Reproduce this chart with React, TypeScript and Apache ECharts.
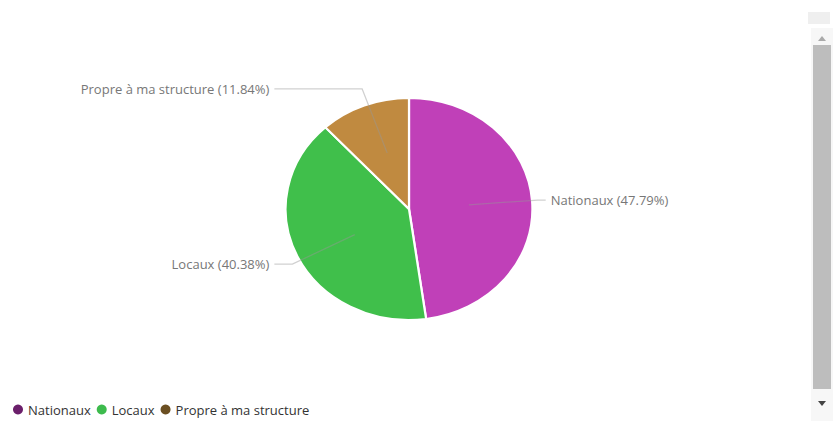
import React, { useEffect, useRef } from "react";
import * as echarts from "echarts";

const categories = ["Nationaux", "Locaux", "Propre à ma structure"];
const percents = [47.79, 40.38, 11.84];
const sliceColors = ["#c040b8", "#40bf4b", "#c08a40"];
const legendColors = ["#6b1f6b", "#3dbb4d", "#6b4f22"];
const labelLineLen2 = [8, 18, 18];

const CX = 409;
const CY = 209;
const R = 111;
const STRETCH_X = 1.112;

export default function App() {
  const pieRef = useRef<HTMLDivElement>(null);
  const labelRef = useRef<HTMLDivElement>(null);
  useEffect(() => {
    if (!pieRef.current || !labelRef.current) return;
    const font = "'Open Sans', 'Noto Sans', sans-serif";
    const pie = echarts.init(pieRef.current, undefined, { renderer: "svg" });
    pie.setOption({
      animation: false,
      series: [
        {
          type: "pie",
          center: [CX, CY],
          radius: R,
          startAngle: 90,
          clockwise: true,
          itemStyle: { borderColor: "#ffffff", borderWidth: 2 },
          label: { show: false },
          labelLine: { show: false },
          data: categories.map((name, i) => ({
            name,
            value: percents[i],
            itemStyle: { color: sliceColors[i] },
          })),
        },
      ],
    });

    const chart = echarts.init(labelRef.current, undefined, { renderer: "svg" });
    chart.setOption({
      animation: false,
      legend: {
        left: 8,
        bottom: 0,
        icon: "circle",
        itemWidth: 10,
        itemHeight: 10,
        itemGap: 6,
        textStyle: { color: "#333", fontSize: 13, fontFamily: font },
        data: categories.map((name, i) => ({ name, itemStyle: { color: legendColors[i] } })),
      },
      graphic: [
        { type: "rect", shape: { x: 808, y: 12, width: 22, height: 12 }, style: { fill: "#efefef" }, silent: true },
        { type: "rect", shape: { x: 811, y: 28, width: 22, height: 393 }, style: { fill: "#f7f7f7" }, silent: true },
        { type: "rect", shape: { x: 813, y: 45, width: 18, height: 344 }, style: { fill: "#bdbdbd" }, silent: true },
        { type: "polygon", shape: { points: [[818, 41], [826, 41], [822, 36]] }, style: { fill: "#aaaaaa" }, silent: true },
        { type: "polygon", shape: { points: [[818, 401], [826, 401], [822, 406]] }, style: { fill: "#444444" }, silent: true },
      ],
      series: [
        {
          type: "pie",
          name: "labels",
          center: [CX, CY],
          radius: 60,
          startAngle: 90,
          clockwise: true,
          silent: true,
          itemStyle: { color: "rgba(0,0,0,0)", borderWidth: 0 },
          emphasis: { disabled: true },
          label: {
            show: true,
            formatter: (p: any) => `${p.name} (${p.value.toFixed(2)}%)`,
            color: "#777777",
            fontSize: 13,
            fontFamily: font,
            alignTo: "labelLine",
            distanceToLabelLine: 5,
          },
          labelLine: {
            show: true,
            length: 69,
            length2: 18,
            lineStyle: { color: "rgba(150,150,150,0.45)", width: 1.3 },
          },
          data: categories.map((name, i) => ({
            name,
            value: percents[i],
            labelLine: { length2: labelLineLen2[i] },
          })),
        },
      ],
    });
    return () => {
      pie.dispose();
      chart.dispose();
    };
  }, []);
  return (
    <div style={{ position: "absolute", left: 0, top: 0, width: 833, height: 421, background: "#fff" }}>
      <div
        ref={pieRef}
        style={{
          position: "absolute",
          left: 0,
          top: 0,
          width: 833,
          height: 421,
          transform: `scaleX(${STRETCH_X})`,
          transformOrigin: `${CX}px ${CY}px`,
        }}
      />
      <div ref={labelRef} style={{ position: "absolute", left: 0, top: 0, width: 833, height: 421 }} />
    </div>
  );
}
